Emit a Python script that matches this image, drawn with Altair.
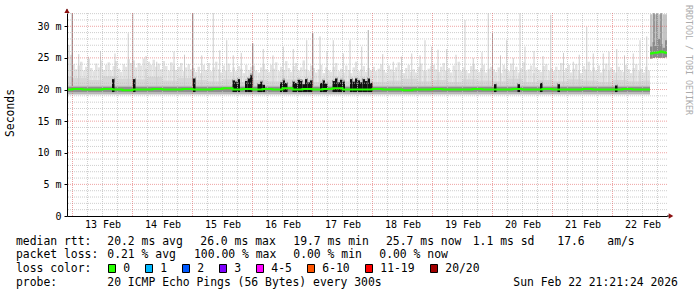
import altair as alt
import pandas as pd

MONO = "DejaVu Sans Mono"
PL, PT, PW, PH = 67, 13, 600, 203          # plot-area placement in the 697x297 page
X_START, X_END, DATA_END = -2.2, 237.8, 231  # hours after 13 Feb 00:00
Y_MAX = 32.1                                 # ms

# ---------------- axis / tick data ----------------
day_labels = ["13 Feb", "14 Feb", "15 Feb", "16 Feb", "17 Feb",
              "18 Feb", "19 Feb", "20 Feb", "21 Feb", "22 Feb"]
day_label_hours = [12, 36, 60, 84, 108, 132, 156, 180, 204, 228]
day_start_hours = [0, 24, 48, 72, 96, 120, 144, 168, 192, 216]
y_tick_values = [0, 5, 10, 15, 20, 25, 30]
y_tick_labels = ["0\u00a0\u00a0", "5 m", "10 m", "15 m", "20 m", "25 m", "30 m"]

# ---------------- smoke: light haze top per hour (ms), hours -3 .. 230 ----------------
haze_pre = [27.4, 27.0, 25.5]
haze_d13 = [24.0, 23.2, 23.8, 24.4, 23.0, 23.6, 24.9, 23.4, 22.9, 24.1, 23.5, 24.6,
            23.1, 23.9, 24.3, 23.0, 23.7, 24.5, 23.3, 22.8, 24.0, 23.6, 24.8, 24.2]
haze_d14 = [24.6, 23.5, 24.2, 23.8, 24.9, 23.3, 24.4, 23.9, 24.7, 23.6, 24.1, 23.2,
            24.5, 23.7, 23.0, 24.3, 23.8, 23.1, 23.6, 24.2, 22.9, 23.5, 24.0, 23.2]
haze_d15 = [23.4, 22.8, 23.6, 22.6, 23.9, 23.1, 24.2, 22.9, 23.5, 24.4, 23.2, 22.7,
            23.8, 23.0, 24.1, 22.8, 23.5, 22.9, 23.7, 23.3, 22.6, 23.9, 23.1, 23.6]
haze_d16 = [23.8, 23.0, 22.7, 23.5, 24.0, 23.2, 22.8, 23.9, 23.3, 24.3, 22.9, 23.6,
            23.1, 24.5, 23.4, 22.8, 23.7, 24.2, 23.0, 23.5, 24.6, 23.2, 22.9, 23.8]
haze_d17 = [23.4, 22.7, 23.2, 23.9, 22.6, 23.5, 23.0, 22.8, 23.6, 24.2, 22.9, 23.3,
            22.7, 23.8, 23.1, 22.6, 23.5, 24.4, 22.9, 23.2, 23.7, 22.8, 23.4, 23.0]
haze_d18 = [23.6, 22.9, 23.3, 24.0, 23.1, 22.7, 23.8, 23.2, 22.8, 23.5, 24.3, 23.0,
            22.6, 23.4, 23.9, 22.8, 23.2, 22.7, 23.6, 24.1, 23.0, 22.9, 23.3, 23.7]
haze_d19 = [23.9, 23.2, 22.8, 23.6, 24.2, 23.0, 23.4, 22.7, 23.8, 23.1, 24.4, 22.9,
            23.5, 23.0, 22.6, 23.7, 24.0, 23.2, 22.8, 23.4, 23.9, 22.7, 23.3, 23.6]
haze_d20 = [23.2, 22.8, 23.5, 22.6, 23.9, 23.3, 22.9, 24.1, 23.0, 23.6, 22.7, 23.4,
            24.3, 22.9, 23.2, 23.8, 22.6, 23.5, 23.1, 22.8, 23.7, 24.0, 23.0, 23.4]
haze_d21 = [22.9, 23.6, 23.1, 24.2, 22.8, 23.4, 23.9, 22.7, 23.3, 24.0, 23.0, 22.6,
            23.7, 23.2, 24.4, 22.9, 23.5, 23.0, 23.8, 22.7, 23.3, 24.1, 23.0, 23.5]
haze_d22 = [23.1, 22.7, 23.6, 23.0, 22.8, 23.9, 23.2, 22.6, 23.4, 24.0, 22.9, 23.3,
            22.7, 23.6, 23.0]
haze_floor = 19.1

# medium smoke per 6 hours (starting at hour -6)
mid_top = [22.0, 21.8, 21.5, 22.1, 21.7, 21.6, 22.0, 21.4,
           21.8, 21.5, 21.3, 21.6, 21.2, 21.5, 21.3, 21.6,
           21.4, 21.2, 21.5, 21.3, 21.6, 21.2, 21.4, 21.7,
           21.3, 21.5, 21.2, 21.6, 21.4, 21.3, 21.7, 21.2,
           21.5, 21.3, 21.6, 21.4, 21.2, 21.5, 21.3, 21.4]
mid_floor = 19.2
core_lo, core_hi = 19.3, 20.6
inner_lo, inner_hi = 19.6, 20.4

# thin tall smoke spikes: hour, top (ms), shade
spike_h = [-0.1, 6.3, 17, 22.3, 24.1, 33.7, 48.1, 51.7, 56.3, 61.7, 64.3, 72.1,
           76.3, 84.3, 88.3, 93.7, 96.1, 99, 104.3, 108.3, 111, 115.7, 118.3, 128.3,
           135.7, 139, 141, 143.7, 149.7, 157, 160.3, 166.3, 168, 173.7, 176.3, 179,
           181, 191.3, 200.3, 205.7, 208.3, 212.3, 217.7, 224.3, 227, 229.7,
           2.5, 11.2, 29.4, 40.6, 44.8, 58.9, 67.5, 80.2, 101.8, 124.1, 131.6, 146.2,
           153.4, 163.8, 171.2, 184.6, 188.2, 196.4, 202.7, 214.6, 220.8]
spike_top = [32.1, 25.2, 25.7, 28.9, 32.1, 24.4, 32.1, 25.4, 32.1, 27.8, 25.4, 27.3,
             26.4, 26.8, 26.4, 27.8, 28.9, 28.4, 27.8, 25.7, 27.8, 26.8, 29.4, 24.4,
             25.7, 25.4, 27.8, 26.8, 26.4, 31.0, 25.0, 32.1, 28.9, 27.8, 25.0, 32.1,
             26.8, 31.8, 24.4, 29.9, 25.7, 25.7, 26.4, 25.7, 27.8, 28.4,
             25.6, 26.1, 25.3, 26.0, 25.5, 26.2, 25.8, 25.4, 26.0, 25.6, 25.2, 26.3,
             25.5, 25.9, 25.4, 26.1, 25.3, 25.8, 25.5, 26.0, 25.4]
spike_shade = ["d", "l", "l", "l", "m", "l", "d", "l", "l", "l", "l", "d",
               "l", "l", "l", "l", "d", "l", "l", "l", "l", "l", "m", "l",
               "l", "l", "l", "l", "l", "l", "l", "l", "m", "l", "l", "l",
               "l", "l", "l", "l", "l", "l", "l", "l", "l", "l",
               "l", "l", "l", "l", "l", "l", "l", "l", "l", "l", "l", "l",
               "l", "l", "l", "l", "l", "l", "l", "l", "l"]
spike_floor = 19.4

# dense dark smoke blocks: hour, top (ms), loss count of the median there
black_h = [15.8, 24.2, 48.2,
           64, 65, 66, 69, 70, 71, 74, 75, 76,
           83, 84, 85, 88, 89, 90, 91, 92, 93, 94, 95,
           99, 100, 101, 104, 105, 106, 107, 108,
           111, 112, 113, 114, 115, 116, 117, 118, 119,
           168.6, 178, 187, 194, 217]
black_top = [21.8, 21.8, 21.9,
             21.6, 21.4, 21.8, 21.5, 21.9, 22.4, 21.0, 21.4, 20.9,
             21.3, 21.6, 21.2, 21.4, 21.2, 21.7, 21.5, 21.0, 21.8, 21.3, 21.6,
             21.2, 21.6, 21.1, 21.5, 21.9, 21.3, 21.7, 21.4,
             21.8, 21.4, 21.9, 21.6, 21.3, 21.8, 21.5, 21.9, 21.2,
             21.0, 21.0, 21.2, 21.0, 20.8]
black_loss = ["0", "0", "0",
              "0", "0", "0", "0", "0", "1", "0", "0", "0",
              "0", "1", "0", "0", "0", "0", "1", "0", "0", "0", "0",
              "0", "0", "0", "0", "0", "0", "0", "1",
              "0", "0", "0", "0", "0", "0", "0", "0", "0",
              "0", "0", "0", "0", "0"]
black_floor = 19.6

# median rtt per 4 hours (starting at hour -4)
med = [20.0, 20.1, 20.0, 20.0, 20.1, 20.0, 19.9, 20.0, 20.0, 20.1,
       20.0, 20.0, 20.1, 20.0, 20.0, 20.1, 20.2, 20.0, 20.1, 20.0,
       20.1, 20.0, 20.2, 20.0, 20.1, 20.0, 20.1, 20.2, 20.0, 20.0,
       20.0, 20.1, 20.0, 20.0, 19.9, 20.0, 20.0, 20.1, 20.0, 20.0,
       20.0, 20.1, 20.0, 20.0, 20.0, 20.1, 20.0, 20.0, 20.1, 20.0,
       20.0, 20.0, 20.1, 20.0, 20.0, 20.0, 20.1, 20.0, 20.0]

# last block (after the level change), per hour 231..237
last_h = [231, 232, 233, 234, 235, 236, 237]
last_top = [31.9, 31.9, 31.9, 31.9, 31.9, 31.9, 31.9]
last_floor = [24.9, 25.0, 25.1, 25.0, 25.1, 25.0, 25.1]
last_core = [26.8, 27.5, 26.9, 28.0, 27.2, 26.6, 27.8]
last_med = [25.7, 25.8, 25.8, 25.9, 26.0, 25.9, 25.8]
last_streak_h = [232.6, 233.8, 235.4]

# legend
loss_labels = ["0", "1", "2", "3", "4-5", "6-10", "11-19", "20/20"]
loss_colors = ["#26ff00", "#00b8ff", "#0059ff", "#7e00ff", "#ff00ff", "#ff5500", "#ff0000", "#a10000"]
row1 = ["median rtt:", "20.2 ms avg", "26.0 ms max", "19.7 ms min", "25.7 ms now", "1.1 ms sd", "17.6", "am/s"]
row2 = ["packet loss:", "0.21 % avg", "100.00 % max", "0.00 % min", "0.00 % now"]
row3_head = "loss color:"
row4 = ["probe:", "20 ICMP Echo Pings (56 Bytes) every 300s", "Sun Feb 22 21:21:24 2026"]
y_title = "Seconds"
watermark = "RRDTOOL / TOBI OETIKER"

# ---------------- layout (pixels) ----------------
row1_x = [16, 107.3, 200.3, 293.3, 386, 472.7, 557.3, 607.3]
row2_x = [16, 107.3, 194, 293.3, 379.3]
row4_x = [16, 107.3, 513.3]
row_y = [241.5, 255.3, 269, 283]
box_x = [108.5, 145.5, 182.5, 219.5, 256.5, 307.5, 365.5, 430.5]

# ---------------- build ----------------
xs = alt.Scale(domain=[X_START, X_END], nice=False, zero=False)
ys = alt.Scale(domain=[0, Y_MAX], nice=False, zero=False)


def js(lst):
    return "[" + ",".join(repr(v) if not isinstance(v, str) else "'" + v + "'" for v in lst) + "]"


x_expr = f"{js(day_labels)}[indexof({js(day_label_hours)}, datum.value)]"
y_expr = f"{js(y_tick_labels)}[indexof({js(y_tick_values)}, datum.value)]"

X_AX = alt.Axis(values=day_label_hours, labelExpr=x_expr, title=None, grid=False,
                ticks=False, labelFont=MONO, labelFontSize=10, labelColor="#000",
                labelPadding=3, domainColor="#000", domainWidth=1,
                labelFlush=False, labelOverlap=False, zindex=1)
Y_AX = alt.Axis(values=y_tick_values, labelExpr=y_expr, title=None, grid=False,
                tickSize=3, tickColor="#000", labelPadding=3, labelFont=MONO,
                labelFontSize=10, labelColor="#000", domainColor="#000",
                domainWidth=1, labelOverlap=False, zindex=1)


def X(f):
    return alt.X(f, scale=xs, axis=X_AX)


def Y(f):
    return alt.Y(f, scale=ys, axis=Y_AX)


haze_all = haze_pre + haze_d13 + haze_d14 + haze_d15 + haze_d16 + haze_d17 + haze_d18 + haze_d19 + haze_d20 + haze_d21 + haze_d22
haze_df = pd.DataFrame({"h": list(range(-3, -3 + len(haze_all))), "top": haze_all})
haze_df["h2"] = haze_df["h"] + 1
haze_df["lo"] = haze_floor

mid_df = pd.DataFrame({"h": [-6 + 6 * i for i in range(len(mid_top))], "top": mid_top})
mid_df["h2"] = (mid_df["h"] + 6).clip(upper=DATA_END)
mid_df["lo"] = mid_floor

band_df = pd.DataFrame({"h": [X_START - 1], "h2": [DATA_END], "lo": [core_lo], "hi": [core_hi],
                        "lo2": [inner_lo], "hi2": [inner_hi]})

spike_df = pd.DataFrame({"h": spike_h, "top": spike_top, "shade": spike_shade})
spike_df["lo"] = spike_floor

black_df = pd.DataFrame({"h": black_h, "top": black_top, "loss": black_loss})
black_df["h2"] = black_df["h"] + 1.0
black_df["lo"] = black_floor
black_df["t1"] = black_df["top"] - 0.16
black_df["t2"] = black_df["top"] + 0.16

med_df = pd.DataFrame({"h": [-4 + 4 * i for i in range(len(med))] + [DATA_END], "v": med + [med[-1]]})

last_df = pd.DataFrame({"h": last_h, "top": last_top, "lo": last_floor, "core": last_core})
last_df["h2"] = (last_df["h"] + 1).clip(upper=X_END)
last_med_df = pd.DataFrame({"h": last_h + [X_END], "v": last_med + [last_med[-1]]})
streak_df = pd.DataFrame({"h": last_streak_h, "top": [Y_MAX] * len(last_streak_h), "lo": [25.0] * len(last_streak_h)})

minor_x = [h for h in range(0, 240, 6) if h % 24 != 0]
minor_y = [v for v in range(1, 33) if v % 5 != 0]
major_y = [v for v in y_tick_values if v > 0]

haze = alt.Chart(haze_df).mark_rect(color="#e2e2e2", clip=True).encode(x=X("h:Q"), x2="h2:Q", y=Y("lo:Q"), y2="top:Q")
mid = alt.Chart(mid_df).mark_rect(color="#d6d6d6", clip=True).encode(x=X("h:Q"), x2="h2:Q", y=Y("lo:Q"), y2="top:Q")
core = alt.Chart(band_df).mark_rect(color="#b8b8b8", clip=True).encode(x=X("h:Q"), x2="h2:Q", y=Y("lo:Q"), y2="hi:Q")
inner = alt.Chart(band_df).mark_rect(color="#8e8e8e", clip=True).encode(x=X("h:Q"), x2="h2:Q", y=Y("lo2:Q"), y2="hi2:Q")
spikes = alt.Chart(spike_df).mark_rule(strokeWidth=1, clip=True).encode(
    x=X("h:Q"), y=Y("lo:Q"), y2="top:Q",
    color=alt.Color("shade:N", scale=alt.Scale(domain=["l", "m", "d"], range=["#cdcdcd", "#aaaaaa", "#777777"]), legend=None))
black = alt.Chart(black_df).mark_rect(color="#111111", clip=True).encode(x=X("h:Q"), x2="h2:Q", y=Y("lo:Q"), y2="top:Q")

last_light = alt.Chart(last_df).mark_rect(color="#c4c4c4", clip=True).encode(x=X("h:Q"), x2="h2:Q", y=Y("lo:Q"), y2="top:Q")
last_dark = alt.Chart(last_df).mark_rect(color="#8a8a8a", clip=True).encode(x=X("h:Q"), x2="h2:Q", y=Y("lo:Q"), y2="core:Q")
streaks = alt.Chart(streak_df).mark_rule(strokeWidth=1.5, color="#888888", clip=True).encode(x=X("h:Q"), y=Y("lo:Q"), y2="top:Q")

grid_minor_x = alt.Chart(pd.DataFrame({"h": minor_x})).mark_rule(color="#bdbdbd", strokeDash=[1, 1], strokeWidth=1, opacity=0.75).encode(x=X("h:Q"))
grid_minor_y = alt.Chart(pd.DataFrame({"v": minor_y})).mark_rule(color="#bdbdbd", strokeDash=[1, 1], strokeWidth=1, opacity=0.75).encode(y=Y("v:Q"))
grid_major_x = alt.Chart(pd.DataFrame({"h": day_start_hours})).mark_rule(color="#e05a5a", strokeDash=[1, 1], strokeWidth=1, opacity=0.55).encode(x=X("h:Q"))
grid_major_y = alt.Chart(pd.DataFrame({"v": major_y})).mark_rule(color="#e05a5a", strokeDash=[1, 1], strokeWidth=1, opacity=0.55).encode(y=Y("v:Q"))

median = alt.Chart(med_df).mark_line(interpolate="step-after", color=loss_colors[0], strokeWidth=2, clip=True).encode(x=X("h:Q"), y=Y("v:Q"))
loss_ticks = alt.Chart(black_df).mark_rect(clip=True).encode(
    x=X("h:Q"), x2="h2:Q", y=Y("t1:Q"), y2="t2:Q",
    color=alt.Color("loss:N", scale=alt.Scale(domain=loss_labels, range=loss_colors), legend=None))
last_median = alt.Chart(last_med_df).mark_line(interpolate="step-after", color=loss_colors[0], strokeWidth=2, clip=True).encode(x=X("h:Q"), y=Y("v:Q"))

# axis arrows (dark red) and axis-line extensions
ext_df = pd.DataFrame({"h": [X_START], "v": [Y_MAX], "v2": [Y_MAX + 0.6]})
y_ext = alt.Chart(ext_df).mark_rule(color="#000", strokeWidth=1).encode(x=X("h:Q"), y=Y("v:Q"), y2="v2:Q")
xext_df = pd.DataFrame({"h": [X_END], "h2": [X_END + 1.4], "v": [0]})
x_ext = alt.Chart(xext_df).mark_rule(color="#000", strokeWidth=1).encode(x=X("h:Q"), x2="h2:Q", y=Y("v:Q"))
arrow_up = alt.Chart(pd.DataFrame({"h": [X_START], "v": [Y_MAX + 0.35]})).mark_point(
    shape="triangle-up", filled=True, size=28, color="#8b1010", opacity=1).encode(x=X("h:Q"), y=Y("v:Q"))
arrow_right = alt.Chart(pd.DataFrame({"h": [X_END + 1.6], "v": [0]})).mark_point(
    shape="triangle-right", filled=True, size=28, color="#8b1010", opacity=1).encode(x=X("h:Q"), y=Y("v:Q"))


def text_layer(s, px, py, size=11.4, angle=0, color="#000000", align="left"):
    return alt.Chart(pd.DataFrame({"t": [s]})).mark_text(
        align=align, baseline="middle", font=MONO, fontSize=size, color=color, angle=angle
    ).encode(x=alt.value(px - PL), y=alt.value(py - PT), text="t:N")


texts = []
for s, px in zip(row1, row1_x):
    texts.append(text_layer(s, px, row_y[0]))
for s, px in zip(row2, row2_x):
    texts.append(text_layer(s, px, row_y[1]))
texts.append(text_layer(row3_head, 16, row_y[2]))
for lab, col, bx in zip(loss_labels, loss_colors, box_x):
    texts.append(alt.Chart(pd.DataFrame({"c": [lab]})).mark_rect(stroke="#000", strokeWidth=1, fill=col).encode(
        x=alt.value(bx - PL), x2=alt.value(bx + 7 - PL), y=alt.value(264.5 - PT), y2=alt.value(272.5 - PT)))
    texts.append(text_layer(lab, bx + 14.8, row_y[2]))
for s, px in zip(row4, row4_x):
    texts.append(text_layer(s, px, row_y[3]))
texts.append(text_layer(y_title, 10.5, 113, angle=270, align="center"))
texts.append(text_layer(watermark, 688, 60, size=8.3, angle=90, color="#ababab", align="center"))

chart = alt.layer(
    haze, mid, spikes, core, inner, black, last_light, last_dark, streaks,
    grid_minor_x, grid_minor_y, grid_major_x, grid_major_y,
    median, loss_ticks, last_median,
    y_ext, x_ext, arrow_up, arrow_right,
    *texts
).properties(
    width=PW, height=PH,
    padding={"left": PL, "top": PT, "right": 697 - PL - PW, "bottom": 297 - PT - PH},
    autosize=alt.AutoSizeParams(type="none"),
    background="white",
).configure_view(strokeWidth=0)

chart.save("out.html", embed_options={"renderer": "svg", "actions": False})
